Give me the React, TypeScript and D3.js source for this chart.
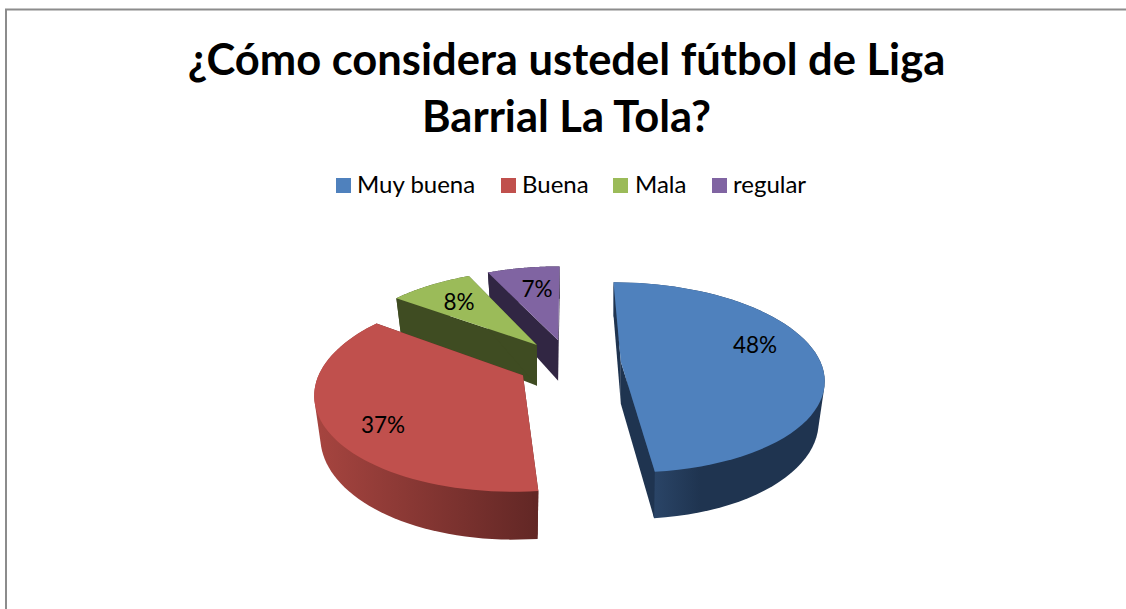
import React from "react";
import * as d3 from "d3";

// Chart data
const titleLines = ["¿Cómo considera ustedel fútbol de Liga", "Barrial La Tola?"];
const categories = ["Muy buena", "Buena", "Mala", "regular"];
const values = [48.4, 36.6, 8, 7];
const topColors = ["#4F81BD", "#C0504D", "#9BBB59", "#8064A2"];
const wallDark = ["#1F3450", "#622725", "#3F4C22", "#312643"];
const wallLight = ["#2B4669", "#A5443F", "#3F4C22", "#312643"];
const legendSwatchX = [336, 501, 613, 712];
const legendTextX = [357, 522, 635, 733];
const labelPos = [[755, 345], [383, 425], [459, 302], [537, 289]];

const WIDTH = 1126;
const HEIGHT = 609;
const FONT = "Lato, Carlito, Calibri, sans-serif";

// 3D pie settings
const CX = 569;
const CY = 363;
const RADIUS = 200;
const BOTTOM_RADIUS = 194;
const EXPLODE = 52;
const TILT = 0.4645;
const DEPTH = 39;
const APEX_DEPTH = 42;
const PERSPECTIVE = 6.1 * RADIUS;

type P = [number, number];

// ground plane -> screen, v is positive toward the viewer
const project = (u: number, v: number, drop = 0): P => {
  const s = PERSPECTIVE / (PERSPECTIVE - v);
  return [CX + u * s, CY + (v * TILT + drop) * s];
};

const pie = d3.pie<number>().sort(null).startAngle(0).endAngle(2 * Math.PI);
const arcs = pie(values);
const line = d3.line();

const slices = arcs.map((a, i) => {
  const mid = (a.startAngle + a.endAngle) / 2;
  const ox = EXPLODE * Math.sin(mid);
  const oy = -EXPLODE * Math.cos(mid);
  const angles = d3.range(0, 61).map((k) => a.startAngle + ((a.endAngle - a.startAngle) * k) / 60);
  const topRim = angles.map((t) => project(ox + RADIUS * Math.sin(t), oy - RADIUS * Math.cos(t), 0));
  // the lower rim sits a little further in, it is further from the camera
  const bottomRim = angles.map((t) =>
    project(ox + BOTTOM_RADIUS * Math.sin(t), oy - RADIUS * Math.cos(t), DEPTH)
  );
  const apexTop = project(ox, oy, 0);
  const apexBottom = project(ox, oy, APEX_DEPTH);
  // hull keeps the slanted silhouette between the two rims
  const hull = d3.polygonHull([...topRim, ...bottomRim])!;
  return {
    i,
    topPath: line([apexTop, ...topRim])! + "Z",
    wallPath: line(hull)! + "Z",
    cutStart: line([apexTop, topRim[0], bottomRim[0], apexBottom])! + "Z",
    cutEnd: line([apexTop, topRim[60], bottomRim[60], apexBottom])! + "Z",
    x0: d3.min(bottomRim, (p) => p[0])!,
    x1: d3.max(bottomRim, (p) => p[0])!,
  };
});

// back slices first, so the nearer tops cover their walls
const drawOrder = [3, 2, 0, 1];

export default function App() {
  return (
    <svg
      width={WIDTH}
      height={HEIGHT}
      style={{ position: "fixed", left: 0, top: 0, background: "#fff" }}
    >
      <defs>
        {slices.map((s) => (
          <linearGradient
            key={s.i}
            id={`wall${s.i}`}
            gradientUnits="userSpaceOnUse"
            x1={s.i === 0 ? 650 : s.x0}
            x2={s.i === 0 ? 700 : s.x1}
            y1={0}
            y2={0}
          >
            <stop offset="0" stopColor={wallLight[s.i]} />
            <stop offset="1" stopColor={wallDark[s.i]} />
          </linearGradient>
        ))}
      </defs>

      {/* chart frame */}
      <path d={`M6,${HEIGHT} V9.5 H${WIDTH}`} fill="none" stroke="#8c8c8c" strokeWidth={2} />

      {titleLines.map((t, i) => (
        <text
          key={t}
          x={566.5}
          y={75 + i * 57}
          textAnchor="middle"
          fontFamily={FONT}
          fontWeight={700}
          fontSize={43.5}
          fill="#000"
        >
          {t}
        </text>
      ))}

      {categories.map((c, i) => (
        <g key={c}>
          <rect x={legendSwatchX[i]} y={178} width={15} height={15} fill={topColors[i]} />
          <text x={legendTextX[i]} y={193} fontFamily={FONT} fontSize={24} fill="#000">
            {c}
          </text>
        </g>
      ))}

      {drawOrder.map((k) => {
        const s = slices[k];
        return (
          <g key={k}>
            <path d={s.wallPath} fill={`url(#wall${k})`} />
            <path d={s.cutStart} fill={wallDark[k]} />
            <path d={s.cutEnd} fill={wallDark[k]} />
            <path d={s.topPath} fill={topColors[k]} />
          </g>
        );
      })}

      {values.map((v, i) => (
        <text
          key={categories[i]}
          x={labelPos[i][0]}
          y={labelPos[i][1] + 8}
          textAnchor="middle"
          fontFamily={FONT}
          fontSize={22.5}
          fill="#000"
        >
          {Math.round(v)}%
        </text>
      ))}
    </svg>
  );
}
